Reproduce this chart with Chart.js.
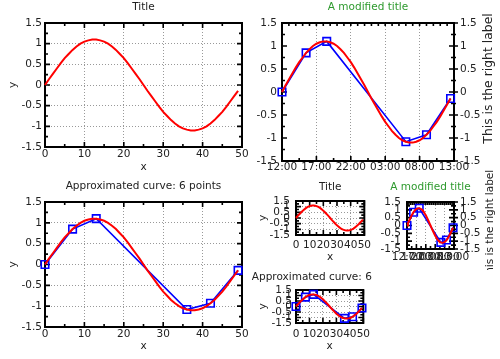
<!DOCTYPE html>
<html>
<head>
<meta charset="utf-8">
<script src="https://cdn.jsdelivr.net/npm/chart.js@4/dist/chart.umd.min.js"></script>
<style>
  body { margin: 0; background: #fff; width: 500px; height: 359px; position: relative; overflow: hidden; }
  canvas { position: absolute; }
</style>
</head>
<body>
<canvas id="c1" width="250" height="180" style="left:0;top:0"></canvas>
<canvas id="c2" width="250" height="180" style="left:250px;top:0"></canvas>
<canvas id="c3" width="250" height="179" style="left:0;top:180px"></canvas>
<canvas id="c4" width="125" height="90" style="left:250px;top:180px"></canvas>
<canvas id="c5" width="125" height="110" style="left:375px;top:160px"></canvas>
<canvas id="c6" width="125" height="89" style="left:250px;top:270px"></canvas>
<script>
// values
var curveX = [0,1,2,3,4,5,6,7,8,9,10,11,12,13,14,15,16,17,18,19,20,21,22,23,24,
              25,26,27,28,29,30,31,32,33,34,35,36,37,38,39,40,41,42,43,44,45,46,47,48,49];
var curveY = [0,0.14,0.27,0.4,0.53,0.65,0.75,0.85,0.93,1.0,1.05,1.08,1.1,1.1,1.08,1.05,1.0,0.93,0.85,0.75,0.65,0.53,0.4,0.27,0.14,
              0,-0.14,-0.27,-0.4,-0.53,-0.65,-0.75,-0.85,-0.93,-1.0,-1.05,-1.08,-1.1,-1.1,-1.08,-1.05,-1.0,-0.93,-0.85,-0.75,-0.65,-0.53,-0.4,-0.27,-0.14];
var approxX = [0,7,13,36,42,49];
var approxY = [0,0.85,1.1,-1.08,-0.93,-0.14];
var xTicks = [0,10,20,30,40,50];
var yTicks = [-1.5,-1,-0.5,0,0.5,1,1.5];
var yLabels = ['-1.5','-1','-0.5','0','0.5','1','1.5'];
var timeLabels = ['12:00','17:00','22:00','03:00','08:00','13:00'];

Chart.defaults.font.family = 'DejaVu Sans';
Chart.defaults.font.size = 10.5;
Chart.defaults.color = '#222';

var curvePts = curveX.map(function (x, i) { return { x: x, y: curveY[i] }; });
var approxPts = approxX.map(function (x, i) { return { x: x, y: approxY[i] }; });

function tickMarks(scale, t, fn) {
  if (!t) return;
  var n = Math.round((scale.max - scale.min) / t.minor);
  for (var i = 0; i <= n; i++) {
    var v = scale.min + i * t.minor;
    var isMajor = t.major && Math.abs(v / t.major - Math.round(v / t.major)) < 1e-6;
    fn(scale.getPixelForValue(v), isMajor ? 5 : 3);
  }
}

// frame with inward ticks + free texts, one instance per chart
function framePlugin(o) {
  return {
    id: 'frame',
    beforeDatasetsDraw: function (chart) {
      var ctx = chart.ctx, a = chart.chartArea, xs = chart.scales.x, ys = chart.scales.y;
      ctx.save();
      ctx.strokeStyle = '#000';
      ctx.lineWidth = 1.6;
      ctx.beginPath();
      tickMarks(xs, o.bottom, function (p, l) { ctx.moveTo(p, a.bottom); ctx.lineTo(p, a.bottom - l); });
      tickMarks(xs, o.top, function (p, l) { ctx.moveTo(p, a.top); ctx.lineTo(p, a.top + l); });
      tickMarks(ys, o.left, function (p, l) { ctx.moveTo(a.left, p); ctx.lineTo(a.left + l, p); });
      tickMarks(ys, o.right, function (p, l) { ctx.moveTo(a.right, p); ctx.lineTo(a.right - l, p); });
      tickMarks(ys, o.outRight, function (p, l) { ctx.moveTo(a.right, p); ctx.lineTo(a.right + l - 1, p); });
      ctx.stroke();
      ctx.lineWidth = 2;
      ctx.strokeRect(a.left, a.top, a.right - a.left, a.bottom - a.top);
      ctx.restore();
    },
    afterDraw: function (chart) {
      var ctx = chart.ctx, a = chart.chartArea;
      (o.texts || []).forEach(function (t) {
        var x = t.x === 'c' ? (a.left + a.right) / 2 : t.x;
        var y = t.y === 'c' ? (a.top + a.bottom) / 2 : t.y;
        ctx.save();
        ctx.font = (t.size || 10.5) + 'px "DejaVu Sans"';
        ctx.fillStyle = t.color || '#222';
        ctx.textAlign = 'center';
        ctx.textBaseline = 'middle';
        ctx.translate(x, y);
        if (t.rot) ctx.rotate(-Math.PI / 2);
        ctx.fillText(t.text, 0, 0);
        ctx.restore();
      });
    }
  };
}

function yLabel(v) {
  var i = yTicks.indexOf(Math.round(v * 10) / 10);
  return i < 0 ? '' : yLabels[i];
}

function makeChart(id, s) {
  var datasets = [{
    data: curvePts, borderColor: '#ff0000', borderWidth: 2, pointRadius: 0, tension: 0, clip: false
  }];
  if (s.approx) {
    datasets.push({
      data: approxPts, borderColor: '#0000ff', borderWidth: 1.6, tension: 0, clip: false,
      pointStyle: 'rect', pointRadius: 5.3, pointBorderColor: '#0000ff',
      pointBackgroundColor: 'rgba(0,0,0,0)', pointBorderWidth: 1.6
    });
  }
  var xTickOpts = { stepSize: 10, padding: s.xpad, autoSkip: false, maxRotation: 0, minRotation: 0 };
  if (s.time) xTickOpts.callback = function (v) { return timeLabels[xTicks.indexOf(v)]; };
  var scales = {
    x: {
      type: 'linear', min: xTicks[0], max: xTicks[xTicks.length - 1],
      afterFit: function (sc) { sc.height = s.xh; },
      grid: { color: '#999', lineWidth: 1, drawTicks: false },
      border: { display: false, dash: [1, 2] },
      ticks: xTickOpts
    },
    y: {
      type: 'linear', min: yTicks[0], max: yTicks[yTicks.length - 1],
      afterFit: function (sc) { sc.width = s.yw; },
      grid: { display: !s.time, color: '#999', lineWidth: 1, drawTicks: false },
      border: { display: false, dash: [1, 2] },
      ticks: { stepSize: 0.5, padding: s.ypad, autoSkip: false, callback: yLabel }
    }
  };
  if (s.rw) {
    scales.y2 = {
      type: 'linear', position: 'right', min: yTicks[0], max: yTicks[yTicks.length - 1],
      afterFit: function (sc) { sc.width = s.rw; },
      grid: { display: false, drawTicks: false },
      border: { display: false },
      ticks: { stepSize: 0.5, padding: 6, autoSkip: false, callback: yLabel }
    };
  }
  var cfg = s.time ? {
    bottom: { minor: 5, major: 10 }, top: { minor: 2, major: 0 },
    left: { minor: 0.25, major: 0.5 }, right: { minor: 0.25, major: 0.5 },
    outRight: { minor: 0.25, major: 0.5 }
  } : {
    bottom: { minor: 5, major: 10 }, top: { minor: 5, major: 10 },
    left: { minor: 0.25, major: 0.5 }, right: { minor: 0.25, major: 0.5 }
  };
  cfg.texts = s.texts;
  return new Chart(document.getElementById(id), {
    type: 'line',
    data: { datasets: datasets },
    options: {
      responsive: false, animation: false, devicePixelRatio: 1, events: [],
      layout: { padding: { top: s.top, right: s.right || 0, left: 0, bottom: 0 } },
      scales: scales,
      plugins: { legend: { display: false }, tooltip: { enabled: false } }
    },
    plugins: [framePlugin(cfg)]
  });
}

var green = '#2e9a2e';

makeChart('c1', { top: 23, right: 8, yw: 45, xh: 33, xpad: 1, ypad: 3,
  texts: [{ text: 'Title', x: 'c', y: 7 }, { text: 'x', x: 'c', y: 167 }, { text: 'y', x: 13, y: 'c', rot: true }] });

makeChart('c2', { top: 23, yw: 32, rw: 46, xh: 19, xpad: 0, ypad: 5, time: true, approx: true,
  texts: [{ text: 'A modified title', x: 'c', y: 7, color: green },
          { text: 'This is the right label', x: 239, y: 78.5, rot: true, size: 12.4 }] });

makeChart('c3', { top: 22, right: 8, yw: 45, xh: 32, xpad: 1, ypad: 3, approx: true,
  texts: [{ text: 'Approximated curve: 6 points', x: 'c', y: 6.5 }, { text: 'x', x: 'c', y: 166 }, { text: 'y', x: 13, y: 'c', rot: true }] });

makeChart('c4', { top: 21, right: 8, yw: 46, xh: 35, xpad: 4, ypad: 6,
  texts: [{ text: 'Title', x: 'c', y: 7 }, { text: 'x', x: 'c', y: 77 }, { text: 'y', x: 13, y: 'c', rot: true }] });

makeChart('c5', { top: 42, yw: 32, rw: 46, xh: 21, xpad: 2, ypad: 6, time: true, approx: true,
  texts: [{ text: 'A modified title', x: 'c', y: 27, color: green },
          { text: 'This is the right label', x: 115, y: 65, rot: true }] });

makeChart('c6', { top: 20, right: 8, yw: 46, xh: 36, xpad: 5, ypad: 4, approx: true,
  texts: [{ text: 'Approximated curve: 6 points', x: 'c', y: 7 }, { text: 'x', x: 'c', y: 76 }, { text: 'y', x: 13, y: 'c', rot: true }] });
</script>
</body>
</html>
